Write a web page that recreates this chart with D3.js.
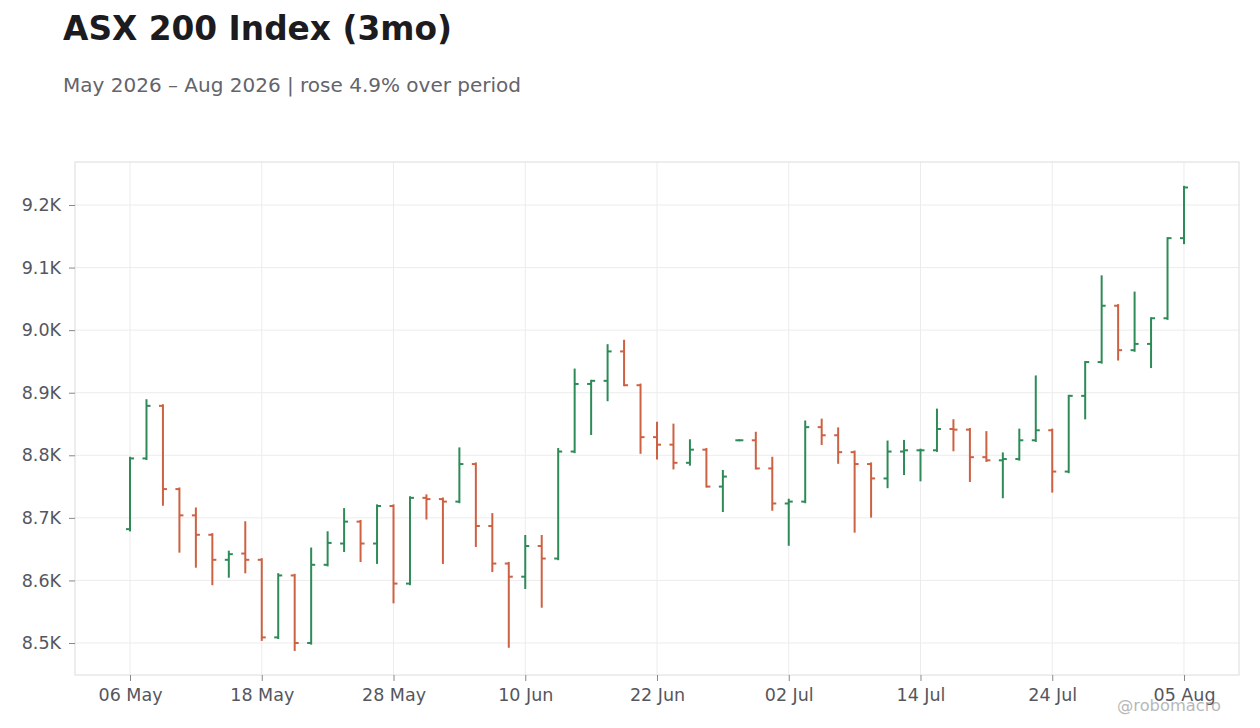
<!DOCTYPE html>
<html>
<head>
<meta charset="utf-8">
<script src="https://cdn.jsdelivr.net/npm/d3@7"></script>
<style>
    html, body { margin: 0; padding: 0; background: #fff; }
    svg { display: block; font-family: 'DejaVu Sans', sans-serif; }
</style>
</head>
<body>
<div id="chart"></div>
<script>
// trading days (ASX, 8 Jun closed for King's Birthday)
const dates = [
    '2026-05-06', '2026-05-07', '2026-05-08', '2026-05-11', '2026-05-12', '2026-05-13', '2026-05-14', '2026-05-15',
    '2026-05-18', '2026-05-19', '2026-05-20', '2026-05-21', '2026-05-22', '2026-05-25', '2026-05-26', '2026-05-27',
    '2026-05-28', '2026-05-29', '2026-06-01', '2026-06-02', '2026-06-03', '2026-06-04', '2026-06-05', '2026-06-09',
    '2026-06-10', '2026-06-11', '2026-06-12', '2026-06-15', '2026-06-16', '2026-06-17', '2026-06-18', '2026-06-19',
    '2026-06-22', '2026-06-23', '2026-06-24', '2026-06-25', '2026-06-26', '2026-06-29', '2026-06-30', '2026-07-01',
    '2026-07-02', '2026-07-03', '2026-07-06', '2026-07-07', '2026-07-08', '2026-07-09', '2026-07-10', '2026-07-13',
    '2026-07-14', '2026-07-15', '2026-07-16', '2026-07-17', '2026-07-20', '2026-07-21', '2026-07-22', '2026-07-23',
    '2026-07-24', '2026-07-27', '2026-07-28', '2026-07-29', '2026-07-30', '2026-07-31', '2026-08-03', '2026-08-04',
    '2026-08-05'
];

const open = [
    8682, 8795, 8879, 8746, 8704, 8673, 8633, 8643, 8633, 8509, 8608, 8500, 8625, 8659, 8694, 8659,
    8719, 8595, 8732, 8730, 8726, 8786, 8687, 8627, 8606, 8655, 8635, 8806, 8914, 8919, 8966, 8912,
    8829, 8817, 8788, 8809, 8750, 8824, 8824, 8779, 8723, 8726, 8845, 8832, 8805, 8786, 8763, 8806,
    8808, 8808, 8842, 8841, 8797, 8792, 8794, 8824, 8840, 8774, 8895, 8949, 9039, 8968, 8978, 9019,
    9147
];
const high = [
    8796, 8888, 8880, 8747, 8715, 8674, 8646, 8693, 8634, 8610, 8609, 8651, 8677, 8714, 8695, 8720,
    8720, 8733, 8736, 8731, 8811, 8787, 8706, 8628, 8671, 8671, 8810, 8937, 8919, 8976, 8983, 8913,
    8852, 8849, 8824, 8810, 8775, 8824, 8836, 8796, 8729, 8854, 8857, 8843, 8806, 8787, 8822, 8823,
    8809, 8873, 8856, 8842, 8837, 8803, 8841, 8926, 8841, 8895, 8949, 9086, 9040, 9060, 9019, 9147,
    9229
];
const low = [
    8680, 8794, 8721, 8646, 8622, 8594, 8606, 8613, 8505, 8508, 8489, 8499, 8624, 8647, 8631, 8628,
    8565, 8594, 8699, 8628, 8725, 8655, 8615, 8494, 8588, 8558, 8634, 8805, 8834, 8888, 8912, 8804,
    8795, 8779, 8785, 8750, 8711, 8824, 8779, 8713, 8657, 8725, 8818, 8788, 8678, 8702, 8749, 8770,
    8760, 8807, 8808, 8759, 8791, 8733, 8793, 8823, 8742, 8773, 8859, 8948, 8953, 8967, 8941, 9018,
    9139
];
const close = [
    8795, 8879, 8746, 8704, 8673, 8633, 8642, 8633, 8509, 8608, 8500, 8625, 8660, 8694, 8659, 8719,
    8595, 8732, 8730, 8726, 8786, 8687, 8627, 8606, 8655, 8635, 8806, 8914, 8919, 8966, 8912, 8829,
    8817, 8788, 8809, 8750, 8766, 8824, 8779, 8723, 8726, 8845, 8832, 8805, 8786, 8763, 8806, 8808,
    8808, 8842, 8841, 8797, 8792, 8794, 8824, 8840, 8774, 8895, 8949, 9039, 8968, 8978, 9019, 9147,
    9228
];

const yTicks = [8500, 8600, 8700, 8800, 8900, 9000, 9100, 9200];
const xTickIdx = [0, 8, 16, 24, 32, 40, 48, 56, 64];

const title = 'ASX 200 Index (3mo)';
const subtitle = 'May 2026 – Aug 2026 | rose 4.9% over period';

const width = 1260;
const height = 728;
const margin = { top: 162, right: 21, bottom: 53, left: 75 };
const up = '#2e8b57';
const down = '#cd6142';

const parse = d3.timeParse('%Y-%m-%d');
const fmtDate = d3.timeFormat('%d %b');

const bars = dates.map((d, i) => ({
    i, date: parse(d), o: open[i], h: high[i], l: low[i], c: close[i],
}));

const svg = d3.select('#chart').append('svg')
    .attr('width', width)
    .attr('height', height);

svg.append('rect').attr('width', width).attr('height', height).attr('fill', '#fff');

const x = d3.scaleLinear()
    .domain([-3.34, dates.length - 1 + 3.34])
    .range([margin.left, width - margin.right]);

const y = d3.scaleLinear()
    .domain([8448.9, 9268.7])
    .range([height - margin.bottom, margin.top]);

// grid
const grid = svg.append('g');
grid.selectAll('.gy').data(yTicks).enter().append('line')
    .attr('x1', margin.left).attr('x2', width - margin.right)
    .attr('y1', d => y(d)).attr('y2', d => y(d))
    .attr('stroke', '#ececec').attr('stroke-width', 1);
grid.selectAll('.gx').data(xTickIdx).enter().append('line')
    .attr('x1', d => x(d)).attr('x2', d => x(d))
    .attr('y1', margin.top).attr('y2', height - margin.bottom)
    .attr('stroke', '#ececec').attr('stroke-width', 1);

// frame
svg.append('rect')
    .attr('x', margin.left).attr('y', margin.top)
    .attr('width', width - margin.left - margin.right)
    .attr('height', height - margin.top - margin.bottom)
    .attr('fill', 'none').attr('stroke', '#dcdcdc');

// axes
const yAxis = svg.append('g')
    .attr('transform', `translate(${margin.left},0)`)
    .call(d3.axisLeft(y).tickValues(yTicks).tickSize(6).tickPadding(8)
        .tickFormat(d => `${(d / 1000).toFixed(1)}K`));
const xAxis = svg.append('g')
    .attr('transform', `translate(0,${height - margin.bottom})`)
    .call(d3.axisBottom(x).tickValues(xTickIdx).tickSize(6).tickPadding(8)
        .tickFormat(i => fmtDate(bars[i].date)));

[yAxis, xAxis].forEach((ax) => {
    ax.select('.domain').remove();
    ax.selectAll('.tick line').attr('stroke', '#888');
    ax.selectAll('.tick text')
        .attr('fill', '#55565e')
        .style('font-size', '17.5px')
        .style('font-family', "'DejaVu Sans', sans-serif");
});

// OHLC bars
const g = svg.append('g');
const tw = 4;
const col = d => (d.c >= d.o ? up : down);
g.selectAll('.hl').data(bars).enter().append('line')
    .attr('x1', d => x(d.i)).attr('x2', d => x(d.i))
    .attr('y1', d => y(d.h) - 1).attr('y2', d => y(d.l) + 1)
    .attr('stroke', col).attr('stroke-width', 2);
g.selectAll('.op').data(bars).enter().append('line')
    .attr('x1', d => x(d.i) - tw).attr('x2', d => x(d.i))
    .attr('y1', d => y(d.o)).attr('y2', d => y(d.o))
    .attr('stroke', col).attr('stroke-width', 2);
g.selectAll('.cl').data(bars).enter().append('line')
    .attr('x1', d => x(d.i)).attr('x2', d => x(d.i) + tw)
    .attr('y1', d => y(d.c)).attr('y2', d => y(d.c))
    .attr('stroke', col).attr('stroke-width', 2);

// titles
svg.append('text')
    .attr('x', 63).attr('y', 40)
    .attr('fill', '#1b1b20')
    .style('font-size', '32.8px')
    .style('font-weight', 'bold')
    .text(title);
svg.append('text')
    .attr('x', 63).attr('y', 92)
    .attr('fill', '#63646c')
    .style('font-size', '20px')
    .text(subtitle);

// watermark
svg.append('text')
    .attr('x', 1221).attr('y', 711)
    .attr('text-anchor', 'end')
    .attr('fill', '#9a9a9a')
    .attr('opacity', 0.7)
    .style('font-size', '16.3px')
    .text('@robomacro');
</script>
</body>
</html>
